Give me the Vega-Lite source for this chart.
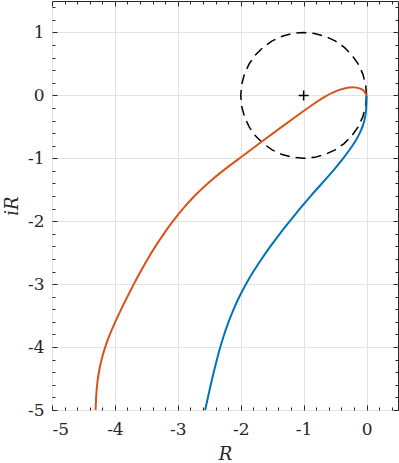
{
  "$schema": "https://vega.github.io/schema/vega-lite/v6.json",
  "width": 346,
  "height": 409,
  "autosize": "none",
  "padding": {"left": 52, "top": 1, "right": 1, "bottom": 53},
  "background": "white",
  "config": {
    "font": "DejaVu Serif",
    "view": {"stroke": "#262626", "strokeWidth": 1},
    "axis": {
      "labelFont": "DejaVu Serif",
      "labelFontSize": 17,
      "labelColor": "#262626",
      "titleFont": "DejaVu Serif",
      "titleFontSize": 18,
      "titleFontStyle": "italic",
      "titleFontWeight": "normal",
      "titleColor": "#262626",
      "gridColor": "#e3e3e3",
      "gridWidth": 1,
      "tickColor": "#262626",
      "tickWidth": 1,
      "domain": false
    }
  },
  "datasets": {
    "curves": [
      {"s": "blue", "i": 0, "x": 0, "y": 0},
      {"s": "blue", "i": 1, "x": 0, "y": -0.1},
      {"s": "blue", "i": 2, "x": -0.003, "y": -0.2},
      {"s": "blue", "i": 3, "x": -0.025, "y": -0.4},
      {"s": "blue", "i": 4, "x": -0.1, "y": -0.6},
      {"s": "blue", "i": 5, "x": -0.22, "y": -0.8},
      {"s": "blue", "i": 6, "x": -0.37, "y": -1.0},
      {"s": "blue", "i": 7, "x": -0.53, "y": -1.2},
      {"s": "blue", "i": 8, "x": -0.71, "y": -1.4},
      {"s": "blue", "i": 9, "x": -0.89, "y": -1.6},
      {"s": "blue", "i": 10, "x": -1.06, "y": -1.8},
      {"s": "blue", "i": 11, "x": -1.22, "y": -2.0},
      {"s": "blue", "i": 12, "x": -1.38, "y": -2.2},
      {"s": "blue", "i": 13, "x": -1.53, "y": -2.4},
      {"s": "blue", "i": 14, "x": -1.67, "y": -2.6},
      {"s": "blue", "i": 15, "x": -1.8, "y": -2.8},
      {"s": "blue", "i": 16, "x": -1.92, "y": -3.0},
      {"s": "blue", "i": 17, "x": -2.025, "y": -3.2},
      {"s": "blue", "i": 18, "x": -2.115, "y": -3.4},
      {"s": "blue", "i": 19, "x": -2.195, "y": -3.6},
      {"s": "blue", "i": 20, "x": -2.265, "y": -3.8},
      {"s": "blue", "i": 21, "x": -2.325, "y": -4.0},
      {"s": "blue", "i": 22, "x": -2.38, "y": -4.2},
      {"s": "blue", "i": 23, "x": -2.43, "y": -4.4},
      {"s": "blue", "i": 24, "x": -2.477, "y": -4.6},
      {"s": "blue", "i": 25, "x": -2.522, "y": -4.8},
      {"s": "blue", "i": 26, "x": -2.565, "y": -5.0},
      {"s": "orange", "i": 0, "x": 0, "y": 0},
      {"s": "orange", "i": 1, "x": -0.02, "y": 0.04},
      {"s": "orange", "i": 2, "x": -0.05, "y": 0.085},
      {"s": "orange", "i": 3, "x": -0.1, "y": 0.11},
      {"s": "orange", "i": 4, "x": -0.16, "y": 0.125},
      {"s": "orange", "i": 5, "x": -0.22, "y": 0.13},
      {"s": "orange", "i": 6, "x": -0.3, "y": 0.125},
      {"s": "orange", "i": 7, "x": -0.4, "y": 0.1},
      {"s": "orange", "i": 8, "x": -0.53, "y": 0.05},
      {"s": "orange", "i": 9, "x": -0.65, "y": -0.01},
      {"s": "orange", "i": 10, "x": -0.79, "y": -0.1},
      {"s": "orange", "i": 11, "x": -1.06, "y": -0.29},
      {"s": "orange", "i": 12, "x": -1.37, "y": -0.515},
      {"s": "orange", "i": 13, "x": -1.68, "y": -0.745},
      {"s": "orange", "i": 14, "x": -2.02, "y": -1.0},
      {"s": "orange", "i": 15, "x": -2.29, "y": -1.2},
      {"s": "orange", "i": 16, "x": -2.53, "y": -1.4},
      {"s": "orange", "i": 17, "x": -2.74, "y": -1.6},
      {"s": "orange", "i": 18, "x": -2.92, "y": -1.8},
      {"s": "orange", "i": 19, "x": -3.08, "y": -2.0},
      {"s": "orange", "i": 20, "x": -3.225, "y": -2.2},
      {"s": "orange", "i": 21, "x": -3.358, "y": -2.4},
      {"s": "orange", "i": 22, "x": -3.48, "y": -2.6},
      {"s": "orange", "i": 23, "x": -3.593, "y": -2.8},
      {"s": "orange", "i": 24, "x": -3.7, "y": -3.0},
      {"s": "orange", "i": 25, "x": -3.803, "y": -3.2},
      {"s": "orange", "i": 26, "x": -3.902, "y": -3.4},
      {"s": "orange", "i": 27, "x": -3.996, "y": -3.6},
      {"s": "orange", "i": 28, "x": -4.082, "y": -3.8},
      {"s": "orange", "i": 29, "x": -4.157, "y": -4.0},
      {"s": "orange", "i": 30, "x": -4.215, "y": -4.2},
      {"s": "orange", "i": 31, "x": -4.257, "y": -4.4},
      {"s": "orange", "i": 32, "x": -4.285, "y": -4.6},
      {"s": "orange", "i": 33, "x": -4.3, "y": -4.8},
      {"s": "orange", "i": 34, "x": -4.307, "y": -5.0}
    ],
    "circle": [
      {"i": 0, "x": 0, "y": 0},
      {"i": 1, "x": -0.0152, "y": 0.1736},
      {"i": 2, "x": -0.0603, "y": 0.342},
      {"i": 3, "x": -0.134, "y": 0.5},
      {"i": 4, "x": -0.234, "y": 0.6428},
      {"i": 5, "x": -0.3572, "y": 0.766},
      {"i": 6, "x": -0.5, "y": 0.866},
      {"i": 7, "x": -0.658, "y": 0.9397},
      {"i": 8, "x": -0.8264, "y": 0.9848},
      {"i": 9, "x": -1, "y": 1},
      {"i": 10, "x": -1.1736, "y": 0.9848},
      {"i": 11, "x": -1.342, "y": 0.9397},
      {"i": 12, "x": -1.5, "y": 0.866},
      {"i": 13, "x": -1.6428, "y": 0.766},
      {"i": 14, "x": -1.766, "y": 0.6428},
      {"i": 15, "x": -1.866, "y": 0.5},
      {"i": 16, "x": -1.9397, "y": 0.342},
      {"i": 17, "x": -1.9848, "y": 0.1736},
      {"i": 18, "x": -2, "y": 0},
      {"i": 19, "x": -1.9848, "y": -0.1736},
      {"i": 20, "x": -1.9397, "y": -0.342},
      {"i": 21, "x": -1.866, "y": -0.5},
      {"i": 22, "x": -1.766, "y": -0.6428},
      {"i": 23, "x": -1.6428, "y": -0.766},
      {"i": 24, "x": -1.5, "y": -0.866},
      {"i": 25, "x": -1.342, "y": -0.9397},
      {"i": 26, "x": -1.1736, "y": -0.9848},
      {"i": 27, "x": -1, "y": -1},
      {"i": 28, "x": -0.8264, "y": -0.9848},
      {"i": 29, "x": -0.658, "y": -0.9397},
      {"i": 30, "x": -0.5, "y": -0.866},
      {"i": 31, "x": -0.3572, "y": -0.766},
      {"i": 32, "x": -0.234, "y": -0.6428},
      {"i": 33, "x": -0.134, "y": -0.5},
      {"i": 34, "x": -0.0603, "y": -0.342},
      {"i": 35, "x": -0.0152, "y": -0.1736},
      {"i": 36, "x": 0, "y": 0}
    ],
    "marker": [{"x": -1, "y": 0}]
  },
  "resolve": {"axis": {"x": "independent", "y": "independent"}},
  "layer": [
    {
      "data": {"name": "circle"},
      "mark": {"type": "line", "color": "black", "strokeWidth": 1.5, "strokeDash": [10, 6], "clip": true},
      "encoding": {
        "x": {"field": "x", "type": "quantitative", "scale": {"domain": [-5, 0.5], "nice": false, "zero": false},
          "axis": {"orient": "bottom", "values": [-5, -4, -3, -2, -1, 0], "ticks": false, "grid": true, "labels": true,
            "labelPadding": 11, "labelBaseline": "top", "labelFont": "DejaVu Serif",
            "labelExpr": "(datum.value < 0 ? '-' : '') + abs(round(datum.value))",
            "title": "R", "titleY": 49, "titleBaseline": "alphabetic", "titleFont": "DejaVu Serif"}},
        "y": {"field": "y", "type": "quantitative", "scale": {"domain": [-5, 1.5], "nice": false, "zero": false},
          "axis": {"orient": "left", "values": [-5, -4, -3, -2, -1, 0, 1], "ticks": false, "grid": true, "labels": true,
            "labelPadding": 8, "labelFont": "DejaVu Serif",
            "labelExpr": "(datum.value < 0 ? '-' : '') + abs(round(datum.value))",
            "title": "iR", "titleX": -35, "titleAngle": -90, "titleBaseline": "alphabetic", "titleFont": "DejaVu Serif"}},
        "order": {"field": "i", "type": "quantitative"}
      }
    },
    {
      "data": {"name": "curves"},
      "transform": [{"filter": "datum.s === 'blue'"}],
      "mark": {"type": "line", "color": "#0072BD", "strokeWidth": 2, "clip": true, "interpolate": "basis"},
      "encoding": {
        "x": {"field": "x", "type": "quantitative",
          "axis": {"orient": "bottom", "values": [-5, -4, -3, -2, -1, 0],
            "labels": false, "grid": false, "ticks": true, "title": null, "tickSize": -5}},
        "y": {"field": "y", "type": "quantitative",
          "axis": {"orient": "left", "values": [-5, -4, -3, -2, -1, 0, 1],
            "labels": false, "grid": false, "ticks": true, "title": null, "tickSize": -5}},
        "order": {"field": "i", "type": "quantitative"}
      }
    },
    {
      "data": {"name": "curves"},
      "transform": [{"filter": "datum.s === 'orange'"}],
      "mark": {"type": "line", "color": "#D95319", "strokeWidth": 2, "clip": true, "interpolate": "basis"},
      "encoding": {
        "x": {"field": "x", "type": "quantitative",
          "axis": {"orient": "top", "values": [-5, -4, -3, -2, -1, 0],
            "labels": false, "grid": false, "ticks": true, "title": null, "tickSize": -5}},
        "y": {"field": "y", "type": "quantitative",
          "axis": {"orient": "right", "values": [-5, -4, -3, -2, -1, 0, 1],
            "labels": false, "grid": false, "ticks": true, "title": null, "tickSize": -5}},
        "order": {"field": "i", "type": "quantitative"}
      }
    },
    {
      "data": {"name": "marker"},
      "mark": {"type": "point", "shape": "M-1,0H1M0,-1V1", "size": 100, "filled": false, "stroke": "black", "strokeWidth": 1.5, "opacity": 1},
      "encoding": {
        "x": {"field": "x", "type": "quantitative",
          "axis": {"orient": "bottom", "values": [-4.8, -4.6, -4.4, -4.2, -3.8, -3.6, -3.4, -3.2, -2.8, -2.6, -2.4, -2.2, -1.8, -1.6, -1.4, -1.2, -0.8, -0.6, -0.4, -0.2, 0.2, 0.4],
            "labels": false, "grid": false, "ticks": true, "title": null, "tickSize": -3}},
        "y": {"field": "y", "type": "quantitative",
          "axis": {"orient": "left", "values": [-4.8, -4.6, -4.4, -4.2, -3.8, -3.6, -3.4, -3.2, -2.8, -2.6, -2.4, -2.2, -1.8, -1.6, -1.4, -1.2, -0.8, -0.6, -0.4, -0.2, 0.2, 0.4, 0.6, 0.8, 1.2, 1.4],
            "labels": false, "grid": false, "ticks": true, "title": null, "tickSize": -3}}
      }
    },
    {
      "data": {"name": "marker"},
      "mark": {"type": "point", "opacity": 0},
      "encoding": {
        "x": {"field": "x", "type": "quantitative",
          "axis": {"orient": "top", "values": [-4.8, -4.6, -4.4, -4.2, -3.8, -3.6, -3.4, -3.2, -2.8, -2.6, -2.4, -2.2, -1.8, -1.6, -1.4, -1.2, -0.8, -0.6, -0.4, -0.2, 0.2, 0.4],
            "labels": false, "grid": false, "ticks": true, "title": null, "tickSize": -3}},
        "y": {"field": "y", "type": "quantitative",
          "axis": {"orient": "right", "values": [-4.8, -4.6, -4.4, -4.2, -3.8, -3.6, -3.4, -3.2, -2.8, -2.6, -2.4, -2.2, -1.8, -1.6, -1.4, -1.2, -0.8, -0.6, -0.4, -0.2, 0.2, 0.4, 0.6, 0.8, 1.2, 1.4],
            "labels": false, "grid": false, "ticks": true, "title": null, "tickSize": -3}}
      }
    }
  ]
}
